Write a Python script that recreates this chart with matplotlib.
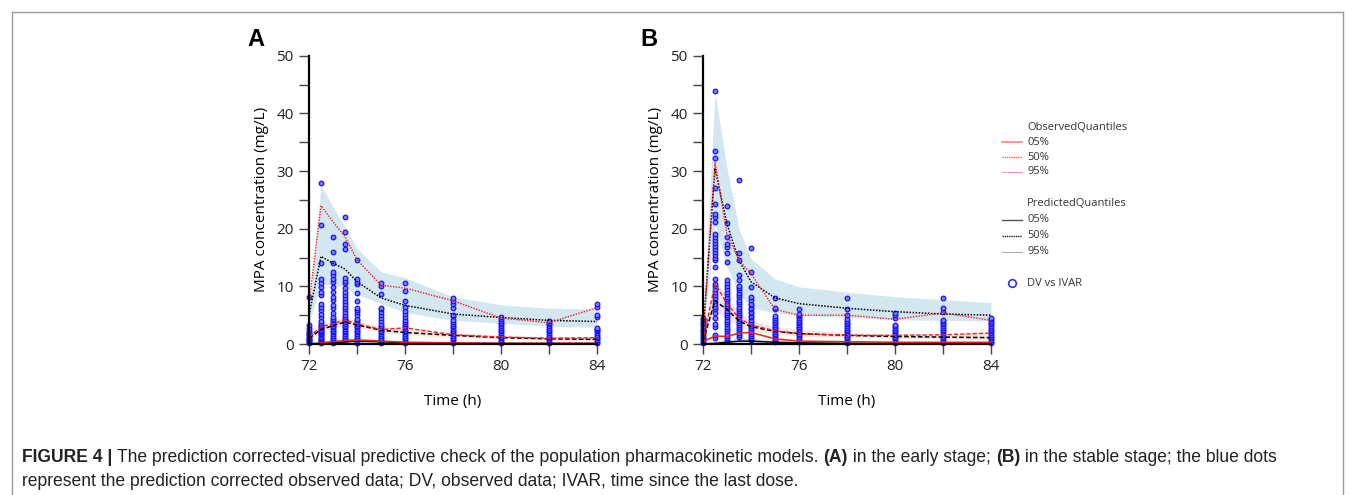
import matplotlib
matplotlib.use("Agg")
import matplotlib.pyplot as plt
from matplotlib.lines import Line2D
from matplotlib import font_manager

# ---- data ----
times = [72, 72.5, 73, 73.5, 74, 75, 76, 78, 80, 82, 84]

# panel A (early stage)
a_obs05 = [0.0, 0.2, 0.4, 0.6, 0.7, 0.5, 0.3, 0.2, 0.1, 0.1, 0.1]
a_obs50 = [1.2, 3.0, 3.5, 4.2, 3.5, 2.5, 2.8, 1.6, 1.2, 1.0, 1.1]
a_obs95 = [7.0, 24.0, 21.2, 18.6, 14.6, 10.2, 9.7, 7.5, 4.5, 3.7, 6.3]
a_pred05 = [0.0, 0.1, 0.2, 0.4, 0.5, 0.4, 0.2, 0.1, 0.1, 0.1, 0.1]
a_pred50 = [1.0, 2.5, 3.2, 3.8, 3.3, 2.4, 2.0, 1.5, 1.1, 0.9, 0.8]
a_pred95 = [5.0, 15.2, 14.0, 13.0, 10.8, 8.0, 6.7, 5.2, 4.6, 4.1, 3.9]
a_ci95_lo = [3.6, 10.5, 10.2, 9.9, 8.6, 7.0, 5.5, 4.1, 3.6, 3.1, 2.9]
a_ci95_hi = [4.8, 27.5, 23.8, 20.3, 16.6, 12.5, 11.5, 8.2, 6.8, 6.2, 6.1]
a_ci50_lo = [0.7, 2.0, 2.7, 3.2, 2.8, 2.0, 1.6, 1.2, 0.9, 0.7, 0.6]
a_ci50_hi = [1.4, 3.3, 4.0, 4.6, 4.0, 3.0, 2.6, 2.0, 1.5, 1.3, 1.2]
a_ci05_hi = [0.2, 0.5, 0.8, 1.0, 1.0, 0.8, 0.6, 0.4, 0.3, 0.3, 0.3]
a_dv = [
    [0.1, 0.3, 0.5, 0.7, 0.9, 1.1, 1.3, 1.5, 1.7, 1.9, 2.1, 2.4, 2.7, 3.3, 8.2],
    [0.1, 0.3, 0.5, 0.7, 0.9, 1.1, 1.3, 1.5, 1.7, 1.9, 2.1, 2.3, 2.5, 2.7, 2.9, 3.1, 3.3,
     3.6, 4.0, 4.6, 5.2, 5.9, 6.5, 7.0, 8.5, 9.0, 9.9, 10.5, 11.2, 14.0, 20.7, 28.0],
    [0.2, 0.5, 0.8, 1.1, 1.4, 1.7, 2.0, 2.3, 2.6, 2.9, 3.2, 3.5, 3.8, 4.1, 4.4, 4.7,
     5.3, 6.2, 6.7, 7.6, 8.2, 9.0, 9.9, 10.7, 11.2, 11.9, 12.5, 14.0, 15.9, 18.5],
    [0.5, 0.8, 1.1, 1.4, 1.7, 2.0, 2.3, 2.6, 2.9, 3.2, 3.5, 3.8, 4.1, 4.4, 4.7, 5.0,
     5.5, 6.0, 6.5, 7.0, 7.5, 8.0, 8.5, 9.0, 9.7, 10.5, 11.0, 11.5, 16.4, 17.3, 19.4, 22.0],
    [0.2, 0.5, 0.8, 1.1, 1.4, 1.7, 2.0, 2.3, 2.6, 2.9, 3.2, 3.5, 3.8, 4.1, 4.4,
     5.0, 5.5, 5.9, 6.2, 7.5, 8.8, 10.4, 10.8, 11.2, 14.6],
    [0.2, 0.5, 0.8, 1.1, 1.4, 1.7, 2.0, 2.3, 2.6, 2.9, 3.2, 3.5,
     4.0, 4.5, 5.0, 5.5, 6.0, 6.3, 8.6, 10.0, 10.5],
    [0.2, 0.5, 0.8, 1.1, 1.4, 1.7, 2.0, 2.3, 2.6, 2.9, 3.2, 3.5, 3.8, 4.2,
     4.6, 5.2, 5.8, 6.5, 7.5, 9.2, 10.6],
    [0.2, 0.5, 0.8, 1.1, 1.4, 1.7, 2.0, 2.3, 2.6, 2.9, 3.2, 3.5, 3.8, 4.2,
     4.8, 5.0, 6.3, 7.0, 7.5, 8.0],
    [0.1, 0.4, 0.7, 1.0, 1.3, 1.6, 1.9, 2.2, 2.5, 2.8, 3.1, 3.4, 3.7, 4.0, 4.3, 4.6],
    [0.1, 0.4, 0.7, 1.0, 1.3, 1.6, 1.9, 2.2, 2.5, 2.8, 3.1, 3.4, 3.7, 4.0],
    [0.1, 0.4, 0.7, 1.0, 1.3, 1.6, 1.9, 2.2, 2.4, 2.6, 2.8, 4.7, 5.0, 6.5, 6.9],
]

# panel B (stable stage)
b_obs05 = [0.4, 1.4, 1.3, 1.9, 2.0, 0.9, 0.5, 0.4, 0.3, 0.3, 0.3]
b_obs50 = [0.5, 10.5, 7.0, 4.5, 3.3, 2.3, 1.8, 1.5, 1.5, 1.6, 1.9]
b_obs95 = [1.0, 31.5, 19.0, 14.5, 12.2, 6.0, 5.0, 5.0, 4.3, 5.4, 4.1]
b_pred05 = [0.0, 0.1, 0.3, 0.5, 0.5, 0.3, 0.2, 0.1, 0.1, 0.1, 0.1]
b_pred50 = [0.5, 7.5, 6.0, 4.0, 3.0, 2.2, 1.8, 1.5, 1.3, 1.2, 1.1]
b_pred95 = [2.0, 30.5, 20.8, 14.5, 10.8, 8.0, 7.0, 6.2, 5.6, 5.2, 5.0]
b_ci95_lo = [1.0, 20.9, 13.4, 8.8, 6.3, 5.4, 5.0, 4.6, 4.2, 4.1, 4.0]
b_ci95_hi = [3.0, 43.5, 30.5, 20.0, 14.8, 11.3, 9.9, 9.0, 8.2, 7.7, 7.2]
b_ci50_lo = [0.2, 5.5, 4.5, 3.0, 2.3, 1.8, 1.4, 1.2, 1.0, 0.9, 0.8]
b_ci50_hi = [0.8, 11.0, 8.0, 5.5, 4.0, 3.0, 2.5, 2.0, 1.8, 1.8, 1.8]
b_ci05_hi = [0.2, 0.5, 0.8, 1.0, 1.0, 0.8, 0.6, 0.4, 0.3, 0.3, 0.3]
b_dv = [
    [0.1, 0.4, 0.7, 1.0, 1.3, 1.6, 1.9, 2.2, 2.5, 2.8, 3.1, 3.4, 3.7, 4.0, 4.3, 4.5],
    [1.0, 1.6, 3.0, 3.4, 4.5, 5.3, 6.0, 6.5, 7.0, 7.5, 8.0, 8.5, 9.0, 9.5, 10.0, 10.4,
     11.2, 13.4, 14.5, 15.0, 15.5, 16.0, 16.5, 17.0, 17.5, 18.0, 18.5, 19.0, 21.2, 22.0,
     22.6, 24.3, 27.1, 32.2, 33.5, 43.8],
    [0.7, 1.0, 1.4, 1.8, 2.2, 2.6, 3.0, 3.4, 3.8, 4.2, 4.6, 5.0, 5.4, 5.8, 6.2, 6.6,
     7.0, 7.4, 7.8, 8.2, 8.6, 9.0, 9.5, 10.0, 10.5, 11.1, 14.2, 15.7, 16.8, 17.4, 18.6,
     20.9, 24.0],
    [1.3, 1.6, 1.9, 2.2, 2.6, 3.0, 3.3, 3.6, 4.0, 4.3, 4.7, 5.0, 5.4, 5.8, 6.1, 6.5,
     6.9, 7.3, 7.7, 8.1, 8.5, 8.9, 9.3, 9.7, 10.0, 11.1, 11.9, 14.5, 15.7, 28.4],
    [0.7, 1.0, 1.4, 1.8, 2.1, 2.5, 2.8, 3.2, 3.5, 3.9, 4.2, 4.6, 4.9, 5.3, 5.6, 6.0,
     6.3, 6.7, 7.0, 7.6, 8.2, 9.9, 12.5, 16.6],
    [0.3, 0.6, 0.9, 1.2, 1.5, 1.8, 2.1, 2.4, 2.7, 3.0, 3.3, 3.6, 3.9, 4.2, 4.5, 4.8,
     6.0, 6.3, 8.0],
    [0.3, 0.6, 0.9, 1.2, 1.5, 1.8, 2.1, 2.4, 2.7, 3.0, 3.3, 3.6, 3.9, 4.2, 4.5, 4.8,
     5.0, 5.2, 6.0],
    [0.1, 0.4, 0.7, 1.0, 1.3, 1.6, 1.9, 2.2, 2.5, 2.8, 3.1, 3.4, 3.7, 4.0, 4.3,
     5.1, 6.1, 7.9],
    [0.1, 0.4, 0.7, 1.0, 1.3, 1.6, 1.9, 2.2, 2.5, 2.8, 3.1, 3.3, 4.5, 5.0, 5.3],
    [0.1, 0.4, 0.7, 1.0, 1.3, 1.6, 1.9, 2.2, 2.5, 2.8, 3.1, 3.4, 3.7, 4.0, 4.2,
     5.5, 6.2, 8.0],
    [0.1, 0.4, 0.7, 1.0, 1.3, 1.6, 1.9, 2.2, 2.5, 2.8, 3.1, 3.4, 3.7, 4.0, 4.3, 4.5],
]

legend_obs = ["05%", "50%", "95%"]
legend_pred = ["05%", "50%", "95%"]

caption_runs = [
    [("FIGURE 4 | ", True), ("The prediction corrected-visual predictive check of the population "
                            "pharmacokinetic models. ", False),
     ("(A)", True), (" in the early stage; ", False), ("(B)", True),
     (" in the stable stage; the blue dots", False)],
    [("represent the prediction corrected observed data; DV, observed data; IVAR, "
      "time since the last dose.", False)],
]

# ---- styling ----
W, H = 1355, 495
BAND_BLUE = "#d3e7f1"
BAND_PINK = "#fde4e4"
RED = "#ff1a1a"
avail = {f.name for f in font_manager.fontManager.ttflist}
TICKFONT = "Open Sans" if "Open Sans" in avail else "DejaVu Sans"
CAPFONT = "Liberation Sans Narrow" if "Liberation Sans Narrow" in avail else "Liberation Sans"

fig = plt.figure(figsize=(W / 100, H / 100), dpi=100)


def draw_panel(ax, obs05, obs50, obs95, pred05, pred50, pred95,
               ci95_lo, ci95_hi, ci50_lo, ci50_hi, ci05_hi, dv):
    ax.fill_between(times, ci95_lo, ci95_hi, color=BAND_BLUE, lw=0, zorder=1)
    ax.fill_between(times, ci50_lo, ci50_hi, color=BAND_PINK, lw=0, zorder=1)
    ax.fill_between(times, [0] * len(times), ci05_hi, color=BAND_BLUE, lw=0, zorder=1)
    for t, vals in zip(times, dv):
        ax.scatter([t] * len(vals), vals, s=11, facecolors="#7f7fff",
                   edgecolors="#1414ff", linewidths=0.9, zorder=3, clip_on=False)
    ax.plot(times, pred95, color="black", ls=(0, (1, 1)), lw=1.1, zorder=4)
    ax.plot(times, pred50, color="black", ls=(0, (3, 1.5)), lw=1.1, zorder=4)
    ax.plot(times, pred05, color="black", ls="-", lw=1.1, zorder=4)
    ax.plot(times, obs95, color=RED, ls=(0, (1, 1)), lw=1.0, zorder=5)
    ax.plot(times, obs50, color=RED, ls=(0, (3, 1.5)), lw=1.0, zorder=5)
    ax.plot(times, obs05, color=RED, ls="-", lw=1.1, zorder=5)

    ax.set_xlim(72, 84)
    ax.set_ylim(0, 50)
    for s in ("top", "right"):
        ax.spines[s].set_visible(False)
    for s in ("left", "bottom"):
        ax.spines[s].set_linewidth(1.6)
        ax.spines[s].set_zorder(6)
    ax.set_xticks([72, 76, 80, 84])
    ax.set_xticks([74, 78, 82], minor=True)
    ax.set_yticks([0, 10, 20, 30, 40, 50])
    ax.set_yticks([5, 15, 25, 35, 45], minor=True)
    ax.tick_params(which="both", direction="out", length=7, width=1.0,
                   color="#444444", labelsize=11, pad=4)
    for lab in ax.get_xticklabels() + ax.get_yticklabels():
        lab.set_fontfamily(TICKFONT)
        lab.set_color("#222222")
    ax.set_xlabel("Time (h)", fontsize=11, fontfamily=TICKFONT, labelpad=14)
    ax.set_ylabel("MPA concentration (mg/L)", fontsize=11, fontfamily=TICKFONT,
                  labelpad=5)


ax_w = 288 / W
ax_h = 288.3 / H
ax_b = 1 - 344 / H
ax_a = fig.add_axes([309 / W, ax_b, ax_w, ax_h])
ax_bb = fig.add_axes([703 / W, ax_b, ax_w, ax_h])
draw_panel(ax_a, a_obs05, a_obs50, a_obs95, a_pred05, a_pred50, a_pred95,
           a_ci95_lo, a_ci95_hi, a_ci50_lo, a_ci50_hi, a_ci05_hi, a_dv)
draw_panel(ax_bb, b_obs05, b_obs50, b_obs95, b_pred05, b_pred50, b_pred95,
           b_ci95_lo, b_ci95_hi, b_ci50_lo, b_ci50_hi, b_ci05_hi, b_dv)

fig.text(256 / W, 1 - 40 / H, "A", fontsize=17, fontweight="bold",
         fontfamily="Liberation Sans", va="center", ha="center")
fig.text(649 / W, 1 - 40 / H, "B", fontsize=17, fontweight="bold",
         fontfamily="Liberation Sans", va="center", ha="center")

# ---- legend (drawn by hand, like the source) ----
def fx(px):
    return px / W


def fy(py):
    return 1 - py / H


lx0, lx1, tx = 1002, 1022, 1027
leg_fs = 8.0
fig.text(fx(tx), fy(127), "ObservedQuantiles", fontsize=leg_fs, fontfamily=TICKFONT,
         va="center", color="#333333")
obs_styles = [("-", 1.2, "#ff8080"), ((0, (1, 0.6)), 1.0, "#ff6060"), ("-", 0.7, "#ff9090")]
for i, (lab, (ls, lw, c)) in enumerate(zip(legend_obs, obs_styles)):
    y = 142 + i * 15
    fig.add_artist(Line2D([fx(lx0), fx(lx1)], [fy(y), fy(y)], ls=ls, lw=lw, color=c))
    fig.text(fx(tx), fy(y), lab, fontsize=leg_fs, fontfamily=TICKFONT, va="center",
             color="#333333")
fig.text(fx(tx), fy(204), "PredictedQuantiles", fontsize=leg_fs, fontfamily=TICKFONT,
         va="center", color="#333333")
pred_styles = [("-", 1.0, "#555555"), ((0, (1, 0.6)), 1.0, "#222222"), ("-", 0.7, "#aaaaaa")]
for i, (lab, (ls, lw, c)) in enumerate(zip(legend_pred, pred_styles)):
    y = 220 + i * 16
    fig.add_artist(Line2D([fx(lx0), fx(lx1)], [fy(y), fy(y)], ls=ls, lw=lw, color=c))
    fig.text(fx(tx), fy(y), lab, fontsize=leg_fs, fontfamily=TICKFONT, va="center",
             color="#333333")
fig.add_artist(Line2D([fx(1012)], [fy(283)], marker="o", ms=5.5, mfc="none",
                      mec="#3030ff", mew=1.2, ls="none"))
fig.text(fx(tx), fy(283), "DV vs IVAR", fontsize=leg_fs, fontfamily=TICKFONT,
         va="center", color="#333333")

# ---- frame around the figure ----
frame_c = "#9a9a9a"
fig.add_artist(Line2D([fx(12), fx(12)], [fy(12), 0], color=frame_c, lw=1.0))
fig.add_artist(Line2D([fx(1343), fx(1343)], [fy(12), 0], color=frame_c, lw=1.0))
fig.add_artist(Line2D([fx(12), fx(1343)], [fy(12), fy(12)], color=frame_c, lw=1.0))

# ---- caption with bold runs ----
renderer = fig.canvas.get_renderer()


def line_width(runs, fs):
    total = 0
    for txt, bold in runs:
        t = fig.text(0, 0, txt, fontsize=fs, fontfamily=CAPFONT,
                     fontweight="bold" if bold else "normal")
        total += t.get_window_extent(renderer).width
        t.remove()
    return total


cap_fs = 11.0
w = line_width(caption_runs[0], cap_fs)
cap_fs = cap_fs * (1255 / w)

for runs, ypx in zip(caption_runs, [457, 481]):
    x = 22
    for txt, bold in runs:
        t = fig.text(fx(x), fy(ypx), txt, fontsize=cap_fs, fontfamily=CAPFONT,
                     fontweight="bold" if bold else "normal", va="center",
                     color="#222222")
        x += t.get_window_extent(renderer).width

fig.savefig("out.png", dpi=100)
